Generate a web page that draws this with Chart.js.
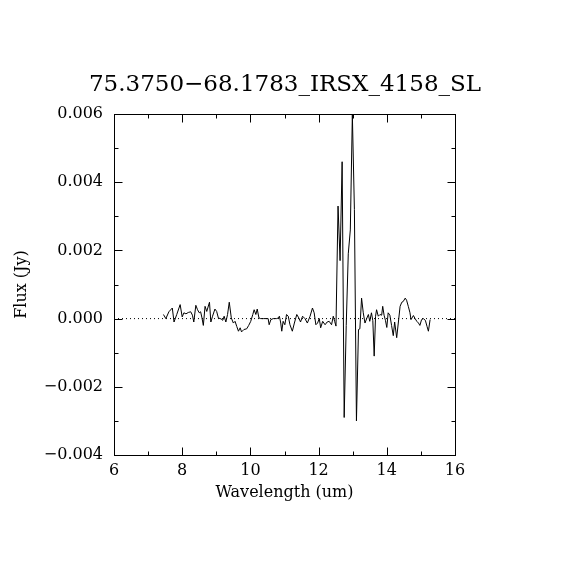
<!DOCTYPE html>
<html>
<head>
<meta charset="utf-8">
<script src="https://cdn.jsdelivr.net/npm/chart.js@4/dist/chart.umd.min.js"></script>
<style>
  html, body { margin: 0; padding: 0; background: #fff; }
  #c { display: block; }
</style>
</head>
<body>
<canvas id="c" width="570" height="570"></canvas>
<script>
// ---- data ----
const wavelength = [
  7.45, 7.52, 7.61, 7.71, 7.76, 7.84, 7.94, 8.00, 8.05, 8.11,
  8.18, 8.25, 8.30, 8.34, 8.40, 8.45, 8.50, 8.54, 8.58, 8.62,
  8.67, 8.72, 8.80, 8.84, 8.89, 8.96, 9.01, 9.06, 9.14, 9.19,
  9.23, 9.28, 9.33, 9.38, 9.44, 9.50, 9.55, 9.60, 9.65, 9.70,
  9.74, 9.81, 9.89, 9.95, 10.01, 10.07, 10.11, 10.16, 10.20, 10.25,
  10.30, 10.38, 10.46, 10.52, 10.55, 10.60, 10.67, 10.77, 10.82, 10.85,
  10.89, 10.92, 10.96, 11.01, 11.06, 11.11, 11.16, 11.23, 11.29, 11.36,
  11.42, 11.47, 11.53, 11.60, 11.67, 11.75, 11.82, 11.87, 11.92, 11.97,
  12.02, 12.06, 12.12, 12.19, 12.25, 12.31, 12.38, 12.43, 12.47, 12.51,
  12.57, 12.63, 12.69, 12.75, 12.81, 12.87, 12.93, 12.99, 13.05, 13.11,
  13.17, 13.21, 13.26, 13.31, 13.36, 13.41, 13.46, 13.50, 13.55, 13.59,
  13.63, 13.67, 13.70, 13.75, 13.80, 13.85, 13.88, 13.92, 13.96, 14.00,
  14.04, 14.09, 14.14, 14.19, 14.23, 14.29, 14.34, 14.39, 14.44, 14.48,
  14.54, 14.58, 14.63, 14.68, 14.71, 14.78, 14.83, 14.88, 14.93, 14.97,
  15.02, 15.07, 15.13, 15.18, 15.22, 15.27
];
const flux = [
  0.00012, 0.0, 0.0002, 0.00031, -0.0001, 0.00012, 0.00041, 0.00005, 0.00017, 0.00014,
  0.00018, 0.0002, 0.0001, -0.0001, 0.00039, 0.00026, 0.00017, 0.0002, 0.00002, -0.0002,
  0.00036, 0.00021, 0.00048, -0.0001, 0.00007, 0.00028, 0.00021, 0.00002, -0.00001, -0.00005,
  0.00007, -0.0001, 0.00012, 0.00048, 0.00002, -0.00013, -0.00008, -0.00023, -0.00037, -0.00027,
  -0.00039, -0.00032, -0.0003, -0.0002, -0.00008, 0.00012, 0.00026, 0.00012, 0.00028, 0.00002,
  0.0, 0.0, 0.0, 0.0, -0.00018, -0.00003, 0.0, 0.0, 0.00002, 0.00007,
  -0.00013, -0.00037, -0.00008, -0.00018, 0.00012, 0.00007, -0.00018, -0.00037, -0.00013, 0.00012,
  0.00002, -0.0001, 0.00007, 0.0, -0.00013, 0.00007, 0.00031, 0.00017, -0.00018, -0.00013,
  0.0, -0.00027, -0.00008, -0.00018, -0.0001, -0.00008, -0.00018, 0.00007, -0.00008, -0.00022,
  0.0033, 0.0017, 0.0046, -0.0029, -0.0002, 0.0019, 0.0026, 0.00598, 0.0032, -0.0030,
  -0.00032, -0.0003, 0.0006, 0.00017, -0.00013, 0.0, 0.00012, -0.00008, 0.00017, -0.00006,
  -0.0011, 0.00007, 0.00026, 0.00007, 0.00012, 0.0001, 0.00036, 0.0001, -0.00005, -0.00026,
  0.00017, 0.0001, -0.0002, -0.0005, -0.0001, -0.00056, -0.0001, 0.00036, 0.00048, 0.0005,
  0.0006, 0.00054, 0.00036, 0.00017, -0.00003, 0.00009, 0.0, -0.00008, -0.00013, -0.0002,
  -0.00003, 0.0, -0.00005, -0.00023, -0.00037, -0.00003
];
const titleText = "75.3750\u221268.1783_IRSX_4158_SL";
const xLabel = "Wavelength (um)";
const yLabel = "Flux (Jy)";
const xRange = [6, 16];
const yRange = [-0.004, 0.006];
const xMajorTicks = [6, 8, 10, 12, 14, 16];
const xMinorTicks = [7, 9, 11, 13, 15];
const yMajorTicks = [-0.004, -0.002, 0, 0.002, 0.004, 0.006];
const yMinorTicks = [-0.003, -0.001, 0.001, 0.003, 0.005];
const zeroLine = [0, 0];

// ---- chart ----
const FONT = "'DejaVu Serif', 'Liberation Serif', serif";
const points = wavelength.map((w, i) => ({ x: w, y: flux[i] }));

const frameTicks = {
  id: 'frameTicks',
  afterDatasetsDraw(chart) {
    const { ctx, chartArea: a, scales: { x, y } } = chart;
    ctx.save();
    ctx.strokeStyle = '#000';
    ctx.lineWidth = 1;
    const L = Math.round(a.left) + 0.5, R = Math.round(a.right) + 0.5;
    const T = Math.round(a.top) + 0.5, B = Math.round(a.bottom) + 0.5;
    ctx.strokeRect(L, T, R - L, B - T);
    ctx.beginPath();
    const xt = (v, len) => {
      const px = Math.round(x.getPixelForValue(v)) + 0.5;
      ctx.moveTo(px, B); ctx.lineTo(px, B - len);
      ctx.moveTo(px, T); ctx.lineTo(px, T + len);
    };
    const yt = (v, len) => {
      const py = Math.round(y.getPixelForValue(v)) + 0.5;
      ctx.moveTo(L, py); ctx.lineTo(L + len, py);
      ctx.moveTo(R, py); ctx.lineTo(R - len, py);
    };
    xMajorTicks.forEach(v => xt(v, 8));
    xMinorTicks.forEach(v => xt(v, 4));
    yMajorTicks.forEach(v => yt(v, 8));
    yMinorTicks.forEach(v => yt(v, 4));
    ctx.stroke();
    ctx.restore();
  }
};

new Chart(document.getElementById('c'), {
  type: 'line',
  data: {
    datasets: [
      {
        data: points,
        borderColor: '#000',
        borderWidth: 1,
        pointRadius: 0,
        tension: 0,
        fill: false
      },
      {
        data: xRange.map((v, i) => ({ x: v, y: zeroLine[i] })),
        borderColor: '#000',
        borderWidth: 1,
        borderDash: [1, 3],
        pointRadius: 0,
        fill: false
      }
    ]
  },
  options: {
    responsive: false,
    animation: false,
    devicePixelRatio: 1,
    layout: { padding: 0 },
    plugins: {
      legend: { display: false },
      tooltip: { enabled: false },
      title: {
        display: true,
        text: titleText,
        color: '#000',
        font: { family: FONT, size: 23, weight: 'normal', lineHeight: 1.2 },
        padding: { top: 71, bottom: 15.4 }
      }
    },
    scales: {
      x: {
        type: 'linear',
        min: xRange[0], max: xRange[1],
        afterBuildTicks: s => { s.ticks = xMajorTicks.map(v => ({ value: v })); },
        afterFit: s => { s.height = 115; },
        grid: { display: false, drawTicks: false },
        border: { display: false },
        ticks: {
          color: '#000',
          padding: 6,
          maxRotation: 0,
          font: { family: FONT, size: 16 },
          callback: v => String(v)
        },
        title: {
          display: true,
          text: xLabel,
          color: '#000',
          font: { family: FONT, size: 16, lineHeight: 1.2 },
          padding: { top: 68, bottom: 68 }
        }
      },
      y: {
        type: 'linear',
        min: yRange[0], max: yRange[1],
        afterBuildTicks: s => { s.ticks = yMajorTicks.map(v => ({ value: v })); },
        afterFit: s => { s.width = 114; },
        grid: { display: false, drawTicks: false },
        border: { display: false },
        ticks: {
          color: '#000',
          padding: 11,
          font: { family: FONT, size: 16 },
          callback: v => {
            const s = Math.abs(v).toFixed(3);
            return (v < -1e-9 ? '\u2212' : '') + s;
          }
        },
        title: {
          display: true,
          text: yLabel,
          color: '#000',
          font: { family: FONT, size: 16, lineHeight: 1.2 },
          padding: { top: 12, bottom: 12 }
        }
      },
      yRight: {
        type: 'linear',
        position: 'right',
        min: yRange[0], max: yRange[1],
        afterFit: s => { s.width = 115; },
        grid: { display: false, drawTicks: false },
        border: { display: false },
        ticks: { display: false }
      }
    }
  },
  plugins: [frameTicks]
});
</script>
</body>
</html>
